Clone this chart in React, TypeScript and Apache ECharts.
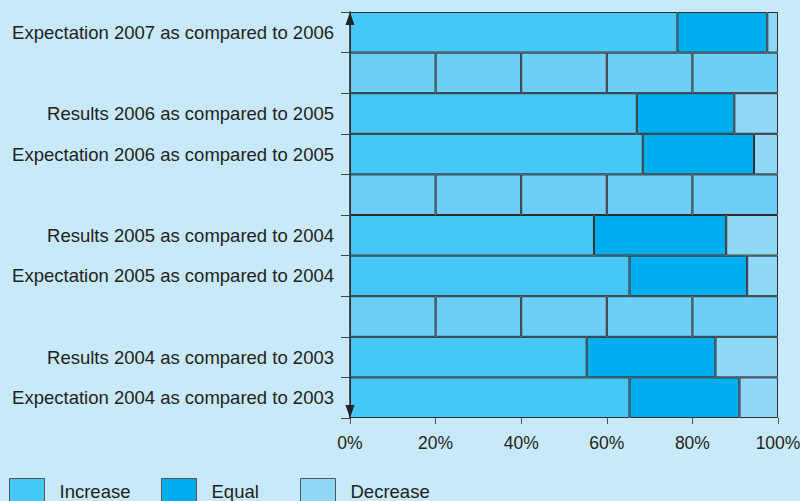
import React, { useEffect, useRef } from "react";
import * as echarts from "echarts";

const categories = [
  "Expectation 2007 as compared to 2006",
  " ",
  "Results 2006 as compared to 2005",
  "Expectation 2006 as compared to 2005",
  "  ",
  "Results 2005 as compared to 2004",
  "Expectation 2005 as compared to 2004",
  "   ",
  "Results 2004 as compared to 2003",
  "Expectation 2004 as compared to 2003",
];

const increaseValues = [76.5, null, 67, 68.4, null, 57, 65.3, null, 55.3, 65.3];
const equalValues = [21, null, 22.8, 26, null, 30.9, 27.5, null, 30.1, 25.7];
const decreaseValues = [2.5, null, 10.2, 5.6, null, 12.1, 7.2, null, 14.6, 9];

const spacerRows = [1, 4, 7];
const spacerCells = [20, 20, 20, 20, 20];

const FONT = "Liberation Sans";
const TEXT = "#231f20";
const BORDER = "#2e2e2e";

const GRID_LEFT = 350;
const GRID_TOP = 12;
const GRID_BOTTOM_Y = 418;

export default function App() {
  const ref = useRef<HTMLDivElement>(null);

  useEffect(() => {
    if (!ref.current) return;
    const chart = echarts.init(ref.current, undefined, { renderer: "svg" });

    const mainSeries = [
      { name: "Increase", data: increaseValues, color: "#45c8f5" },
      { name: "Equal", data: equalValues, color: "#00adee" },
      { name: "Decrease", data: decreaseValues, color: "#8fd8f8" },
    ].map((s) => ({
      name: s.name,
      type: "bar",
      stack: "total",
      barCategoryGap: 0,
      data: s.data.map((v) => (v === null ? "-" : v)),
      itemStyle: { color: s.color, borderColor: BORDER, borderWidth: 1 },
    }));

    const spacerSeries = spacerCells.map((cell, i) => ({
      name: "spacer" + i,
      type: "bar",
      stack: "total",
      barCategoryGap: 0,
      data: categories.map((_, r) => (spacerRows.includes(r) ? cell : "-")),
      itemStyle: { color: "#6dcff6", borderColor: BORDER, borderWidth: 1 },
    }));

    const legendPos = [9, 161, 300];
    const legendNames = ["Increase", "Equal", "Decrease"];

    chart.setOption({
      animation: false,
      backgroundColor: "#c8e9f9",
      textStyle: { fontFamily: FONT },
      grid: {
        left: GRID_LEFT,
        right: 22,
        top: GRID_TOP,
        bottom: 501 - GRID_BOTTOM_Y,
        containLabel: false,
        outerBoundsMode: "none",
      },
      legend: legendNames.map((n, i) => ({
        data: [n],
        left: legendPos[i],
        top: 478,
        padding: 0,
        icon: "rect",
        itemWidth: 35,
        itemHeight: 25,
        itemStyle: { borderColor: "#555", borderWidth: 1 },
        textStyle: { fontSize: 18.5, color: TEXT, fontFamily: FONT, padding: [0, 0, 0, 10] },
      })),
      xAxis: {
        type: "value",
        min: 0,
        max: 100,
        interval: 20,
        splitLine: { show: false },
        axisLine: { show: false },
        axisTick: { show: true, length: 6, lineStyle: { color: "#555" } },
        axisLabel: {
          formatter: "{value}%",
          fontSize: 17.5,
          color: TEXT,
          fontFamily: FONT,
          margin: 16,
        },
      },
      yAxis: {
        type: "category",
        inverse: true,
        data: categories,
        axisLine: { show: true, lineStyle: { color: "#222", width: 1.5 } },
        axisTick: { show: true, length: 9, lineStyle: { color: "#444" } },
        axisLabel: { fontSize: 18.5, color: TEXT, fontFamily: FONT, margin: 16 },
      },
      graphic: [
        {
          type: "polygon",
          z: 100,
          shape: {
            points: [
              [GRID_LEFT, GRID_TOP],
              [GRID_LEFT - 4.5, GRID_TOP + 13],
              [GRID_LEFT + 4.5, GRID_TOP + 13],
            ],
          },
          style: { fill: "#222" },
        },
        {
          type: "polygon",
          z: 100,
          shape: {
            points: [
              [GRID_LEFT, GRID_BOTTOM_Y],
              [GRID_LEFT - 4.5, GRID_BOTTOM_Y - 13],
              [GRID_LEFT + 4.5, GRID_BOTTOM_Y - 13],
            ],
          },
          style: { fill: "#222" },
        },
      ],
      series: [...mainSeries, ...spacerSeries],
    });

    return () => chart.dispose();
  }, []);

  return <div ref={ref} style={{ width: 800, height: 501, position: "absolute", left: 0, top: 0 }} />;
}
